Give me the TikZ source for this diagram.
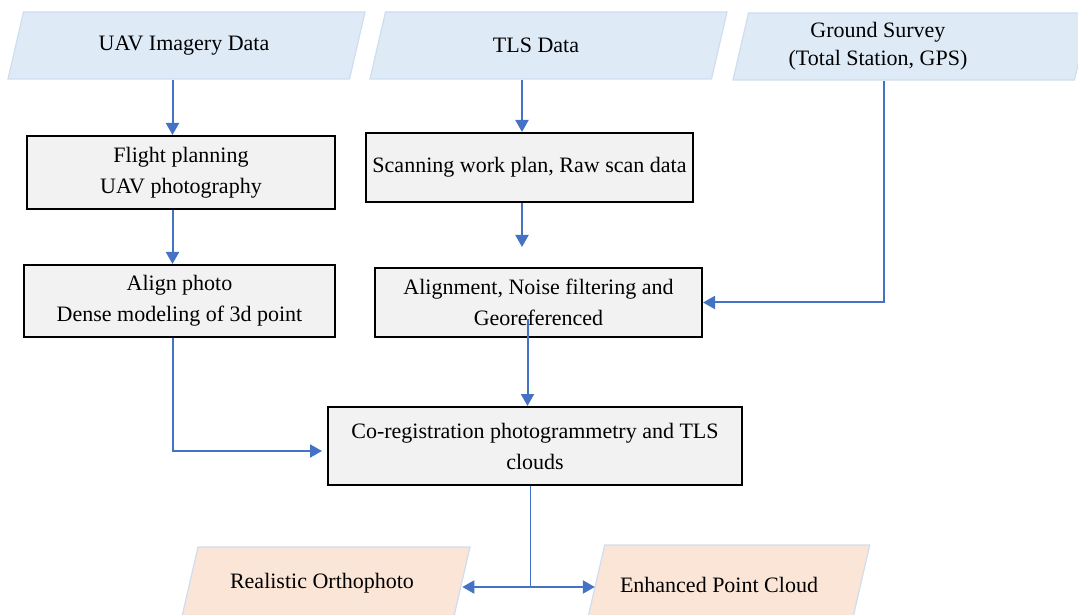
\documentclass[tikz,border=0pt]{standalone}
\usepackage{fontspec}
\setmainfont{Liberation Serif}
\usetikzlibrary{arrows.meta, calc, shapes.geometric}

\definecolor{inblue}{HTML}{DEEBF7}
\definecolor{inedge}{HTML}{CFDDF0}
\definecolor{outpeach}{HTML}{FBE5D6}
\definecolor{boxgray}{HTML}{F2F2F2}
\definecolor{flowblue}{HTML}{4472C4}

\tikzset{
  data/.style = {trapezium, trapezium left angle=77, trapezium right angle=103, trapezium stretches body, draw=inedge, fill=inblue, line width=0.6pt, inner xsep=0pt, inner ysep=16.75pt, minimum width=178.5pt},
  product/.style = {data, fill=outpeach},
  datatext/.style = {font=\fontsize{11pt}{14pt}\selectfont, align=center, inner sep=0pt},
  stage/.style = {draw=black, line width=1pt, fill=boxgray, align=center, inner sep=0pt, font=\fontsize{11pt}{15.5pt}\selectfont},
  flow/.style = {draw=flowblue, line width=1pt, -{Triangle[length=6pt, width=6.5pt]}}
}

\begin{document}
\begin{tikzpicture}[x=0.5pt, y=-0.5pt]
	\useasboundingbox (0,0) rectangle (1078,615);

	\node[data, label={[datatext, name=uavtext, xshift=-1.25pt]center:UAV Imagery Data}] (uav) at (186.5,45.5) {};
	\node[data, label={[datatext, name=tlstext, xshift=-6.25pt]center:TLS Data}] (tls) at (548.5,45.5) {};
	\node[data, label={[datatext, name=gstext, xshift=-16.75pt]center:Ground Survey\\(Total Station, GPS)}] (gs) at (911.5,46.5) {};

	\node[stage, minimum width=154pt, minimum height=36.5pt] (flight) at (181,172.5) {Flight planning\\UAV photography};
	\node[stage, minimum width=155.5pt, minimum height=36pt] (align) at (179.5,301) {Align photo\\Dense modeling of 3d point};
	\node[stage, minimum width=163.5pt, minimum height=34.5pt] (scan) at (529.5,167.5) {Scanning work plan, Raw scan data};
	\node[stage, minimum width=163.5pt, minimum height=34.5pt] (georef) at (538.5,302.5) {Alignment, Noise filtering and\\Georeferenced};
	\node[stage, minimum width=207pt, minimum height=39pt] (coreg) at (535,446) {Co-registration photogrammetry and TLS\\clouds};

	\node[product, minimum width=144.3pt, inner ysep=18pt, label={[datatext, name=orthotext, xshift=-1.85pt]center:Realistic Orthophoto}] (ortho) at (325.7,583) {};
	\node[product, minimum width=141.75pt, inner ysep=20pt, label={[datatext, name=epctext, xshift=-4.5pt]center:Enhanced Point Cloud}] (epc) at (728,585) {};

	\coordinate (colA) at (172.5,0);
	\coordinate (colB) at (522,0);
	\coordinate (colC) at (527.5,0);
	\coordinate (colD) at (884,0);
	\coordinate (colE) at (530,0);
	\coordinate (split) at (530,587);

	\draw[flow] (uav.south -| colA) -- (flight.north -| colA);
	\draw[flow] (flight.south -| colA) -- (align.north -| colA);
	\draw[flow] (tls.south -| colB) -- (scan.north -| colB);
	\draw[flow] (scan.south -| colB) -- ($(georef.north -| colB)+(0,-20)$);
	\draw[flow] ($(georef.center -| colC)+(0,17)$) -- (coreg.north -| colC);
	\draw[flow] (gs.south -| colD) |- (georef.east);
	\draw[flow] (align.south -| colA) |- ([xshift=-2.5pt, yshift=-2.5pt]coreg.west);
	\draw[draw=flowblue, line width=0.5pt] (coreg.south -| colE) -- (split);
	\draw[flow] (split) -- (split -| ortho.east);
	\draw[flow] (split) -- (split -| epc.west);
\end{tikzpicture}
\end{document}
